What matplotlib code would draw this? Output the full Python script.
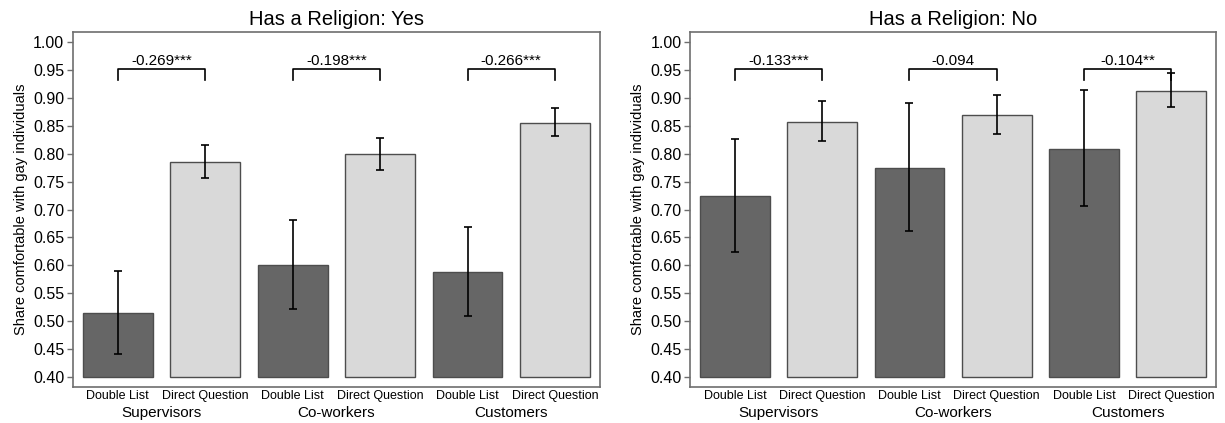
import matplotlib
matplotlib.use('Agg')
import matplotlib.pyplot as plt
import matplotlib.transforms as mtransforms
import numpy as np

plt.rcParams['font.family'] = ['Liberation Sans', 'DejaVu Sans']

groups = ['Supervisors', 'Co-workers', 'Customers']
methods = ['Double List', 'Direct Question']
panel_titles = ['Has a Religion: Yes', 'Has a Religion: No']

# share comfortable, order: DL, DQ per group
yes_vals = [0.514, 0.785, 0.600, 0.799, 0.588, 0.855]
yes_lo = [0.441, 0.756, 0.521, 0.771, 0.509, 0.831]
yes_hi = [0.590, 0.815, 0.682, 0.829, 0.669, 0.882]
yes_diff = ['-0.269***', '-0.198***', '-0.266***']

no_vals = [0.724, 0.857, 0.775, 0.870, 0.809, 0.913]
no_lo = [0.624, 0.823, 0.662, 0.836, 0.706, 0.883]
no_hi = [0.826, 0.894, 0.890, 0.905, 0.914, 0.945]
no_diff = ['-0.133***', '-0.094', '-0.104**']

y_ticks = np.arange(0.40, 1.001, 0.05)

panels = [
    (yes_vals, yes_lo, yes_hi, yes_diff),
    (no_vals, no_lo, no_hi, no_diff),
]

fig = plt.figure(figsize=(12.25, 4.23), dpi=100)
ax_pos = [[0.0593, 0.0851, 0.4305, 0.8392],
          [0.5633, 0.0851, 0.4294, 0.8392]]

dark = '#666666'
light = '#d9d9d9'
edge = '#4d4d4d'
frame = '#6e6e6e'

for i, (vals, lo, hi, diffs) in enumerate(panels):
    ax = fig.add_axes(ax_pos[i])
    x = np.arange(len(vals))
    colors = [dark if k % 2 == 0 else light for k in range(len(vals))]
    vals = np.array(vals)
    err = np.vstack([vals - np.array(lo), np.array(hi) - vals])
    ax.bar(x, vals - 0.40, bottom=0.40, width=0.8, color=colors,
           edgecolor=edge, linewidth=1.0, zorder=2)
    ax.errorbar(x, vals, yerr=err, fmt='none', ecolor='black',
                elinewidth=1.2, capsize=3, capthick=1.2, zorder=3)

    # brackets with differences
    for g in range(len(groups)):
        x0, x1 = x[2 * g], x[2 * g + 1]
        ax.plot([x0, x0, x1, x1], [0.932, 0.952, 0.952, 0.932],
                color='black', lw=1.2, zorder=3)
        ax.text((x0 + x1) / 2, 0.954, diffs[g], ha='center', va='bottom',
                fontsize=11)

    ax.set_xlim(-0.515, len(vals) - 1 + 0.515)
    ax.set_ylim(0.382, 1.018)
    ax.set_yticks(y_ticks)
    ax.set_yticklabels(['%.2f' % t for t in y_ticks], fontsize=11.5)
    ax.set_xticks(x)
    ax.set_xticklabels(methods * len(groups), fontsize=9)
    ax.tick_params(axis='x', length=0, pad=2)
    ax.tick_params(axis='y', length=4, color=frame, width=1, pad=2)
    for s in ax.spines.values():
        s.set_color(frame)
        s.set_linewidth(1.2)
    ax.set_ylabel('Share comfortable with gay individuals', fontsize=10.5,
                  labelpad=4)
    ax.set_title(panel_titles[i], fontsize=14.5, pad=5)

    trans = mtransforms.blended_transform_factory(ax.transData, fig.transFigure)
    for g, name in enumerate(groups):
        ax.text(x[2 * g] + 0.5, 0.024, name, transform=trans,
                ha='center', va='center', fontsize=11)

fig.savefig('out.png', dpi=100)
